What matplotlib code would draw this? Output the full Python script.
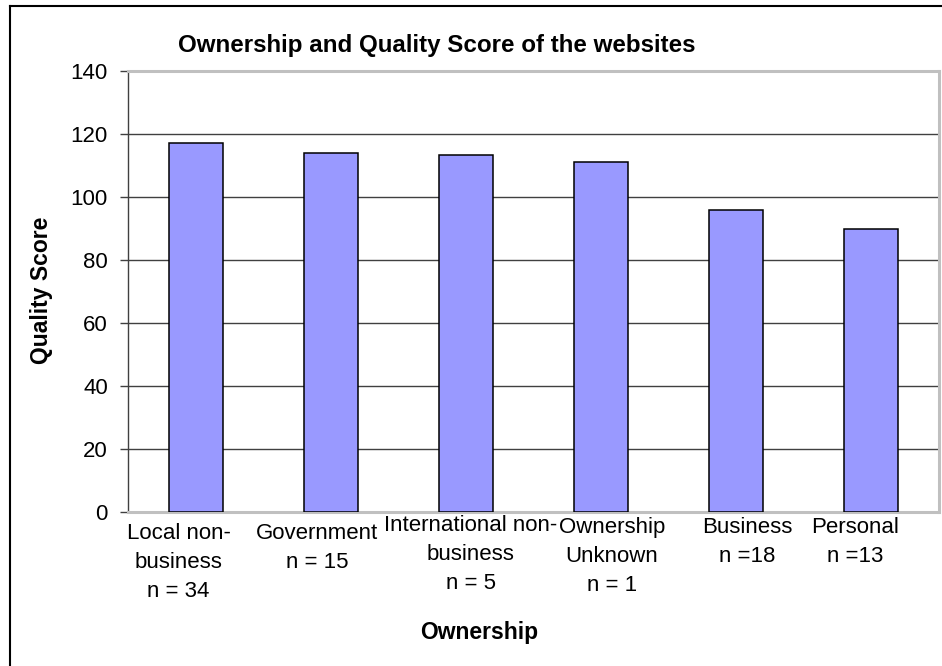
import matplotlib
matplotlib.use('Agg')
import matplotlib.pyplot as plt
from matplotlib.lines import Line2D
from matplotlib.transforms import ScaledTranslation

plt.rcParams['font.family'] = ['Liberation Sans', 'DejaVu Sans']

# Datos
categorias = ['Local non-\nbusiness\nn = 34', 'Government\nn = 15',
              'International non-\nbusiness\nn = 5', 'Ownership\nUnknown\nn = 1',
              'Business\nn =18', 'Personal\nn =13']
puntajes = [117.2, 113.9, 113.4, 111.2, 95.8, 89.8]
y_ticks = [0, 20, 40, 60, 80, 100, 120, 140]

W, H = 942, 666
fig = plt.figure(figsize=(W / 100, H / 100), dpi=100)
ax = fig.add_axes([128 / W, 1 - 512 / H, (939 - 128) / W, (512 - 71) / H])

# Lineas de la cuadricula
for v in y_ticks[1:-1]:
    ax.axhline(v, color='#404040', linewidth=1.0, zorder=1)

ax.bar(range(len(puntajes)), puntajes, width=0.4,
       color='#9999FF', edgecolor='black', linewidth=1.1, zorder=3)

ax.set_xlim(-0.5, len(puntajes) - 0.5)
ax.set_ylim(0, 140)
ax.set_yticks(y_ticks)
ax.set_xticks(range(len(categorias)))
ax.set_xticklabels(categorias, fontsize=16, linespacing=1.5, va='top')
ax.tick_params(axis='x', length=0, pad=8)
ax.tick_params(axis='y', length=5.5, width=1, color='#404040', pad=9, labelsize=16)

# Desplazamiento de las etiquetas como en el original (en pixeles)
dx_px = [-17, -14, 5, 11, 11, -16]
dy_px = [0, 0, -8, -6, -6, -6]
for lbl, dx, dy in zip(ax.get_xticklabels(), dx_px, dy_px):
    lbl.set_transform(lbl.get_transform() +
                      ScaledTranslation(dx / 100, -dy / 100, fig.dpi_scale_trans))

for s in ['top', 'right', 'bottom']:
    ax.spines[s].set_color('#C0C0C0')
    ax.spines[s].set_linewidth(2.2)
ax.spines['left'].set_color('#404040')
ax.spines['left'].set_linewidth(1.0)

# Titulos
fig.text(178 / W, 1 - 52 / H, 'Ownership and Quality Score of the websites',
         fontsize=17.4, fontweight='bold', ha='left', va='baseline')
fig.text(42 / W, 1 - 290 / H, 'Quality Score', fontsize=16.5, fontweight='bold',
         rotation=90, ha='center', va='center')
fig.text(479 / W, 1 - 632 / H, 'Ownership', fontsize=16.5, fontweight='bold',
         ha='center', va='center')

# Borde exterior del grafico
fig.add_artist(Line2D([10 / W, 10 / W], [0, 1 - 6 / H], transform=fig.transFigure,
                      color='black', linewidth=1.5))
fig.add_artist(Line2D([10 / W, 1], [1 - 6 / H, 1 - 6 / H], transform=fig.transFigure,
                      color='black', linewidth=1.5))

plt.savefig('out.png', dpi=100)
